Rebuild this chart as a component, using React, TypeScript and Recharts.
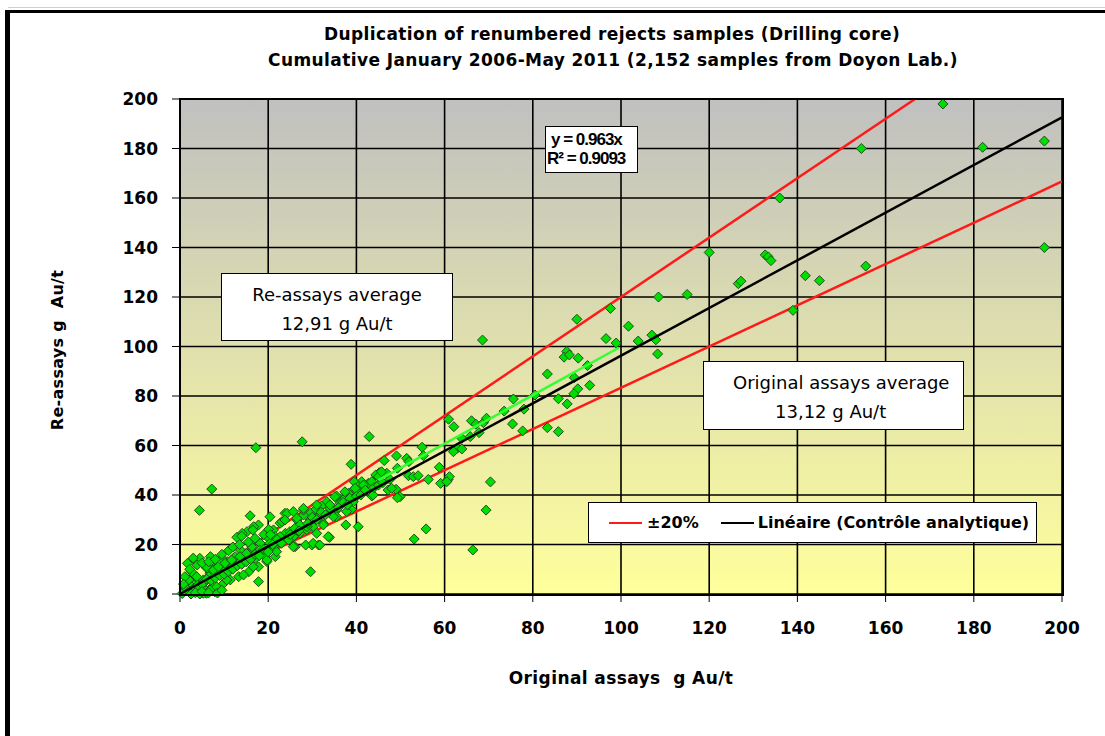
import { ScatterChart, Scatter, XAxis, YAxis, CartesianGrid } from "recharts";

// original assay (g Au/t) vs re-assay (g Au/t)
const SAMPLES: [number, number][] = [
  [173, 198], [154.5, 180], [182, 180.5], [196, 183], [136, 160], [196, 140],
  [120, 138], [132.7, 137], [133.4, 136.2], [134, 134.7], [155.5, 132.5],
  [141.8, 128.6], [145, 126.6], [126.6, 125.4], [127.2, 126.4], [108.5, 120],
  [115, 121], [139, 114.6], [97.6, 115.4], [90, 111], [101.7, 108.2],
  [96.6, 103.2], [98.9, 101.4], [103.9, 102.2], [107, 104.6], [107.9, 102.7],
  [108.3, 97], [87.7, 98], [87.1, 95.7], [88.3, 96.6], [90.3, 95.3],
  [92.4, 92.3], [83.3, 88.9], [89.4, 87.4], [92.9, 84.3], [90.2, 82.9],
  [89.3, 80.9], [85.8, 78.9], [87.8, 76.8], [80.5, 80.4], [75.6, 78.8],
  [73.5, 73.9], [78, 74.7], [75.4, 68.7], [77.7, 65.9], [83.3, 67.2],
  [85.8, 65.6], [68.6, 102.6],
  [60.9, 70.6], [62.1, 67.6], [66.1, 70], [67.1, 68.6], [68.8, 69.2],
  [69.5, 71], [63.9, 62.9], [65.8, 63.6], [67.8, 65.2], [62.9, 58.9],
  [62, 57.5], [54.9, 59.3], [55.2, 55.9], [51.4, 54.8], [51.9, 53.5],
  [51.8, 47.8], [52.9, 47.4], [54, 47.8], [56.3, 46.3], [58.8, 51.2],
  [59.1, 44.7], [60.8, 46.3], [61.1, 47.4], [70.4, 45.3], [69.4, 33.9],
  [55.8, 26.3], [53.1, 22.2], [66.4, 17.8], [49.9, 39.3], [63.9, 58.6],
  [27.7, 61.5], [42.9, 63.6], [38.8, 52.4], [46.3, 53.9], [49.1, 55.8],
  [60.5, 45.4], [49.3, 50.8], [45.2, 49], [44.4, 48.1], [46.9, 48.8],
  [47.6, 46.3], [47.2, 42], [49, 42.3], [49.3, 38.9], [43.5, 39.6],
  [42.7, 44.7], [41.2, 45.4], [39.5, 45.4], [40.4, 43.4], [39.3, 42],
  [38.2, 40.7], [37, 39.3], [35.9, 38], [33.3, 37.3], [34, 34.6],
  [32.1, 35.6], [30.6, 33.9], [29.5, 32.6], [28, 31.9], [35.5, 33.9],
  [38.9, 34.2], [35.5, 31.2], [37.6, 27.9], [40.4, 27.2], [33.9, 22.9],
  [31.4, 19.8], [29.9, 19.8], [28.5, 19.8], [26.1, 19.1], [26.5, 29.9],
  [28.7, 27.2], [30.6, 29.9], [32.5, 28.6],
  [35.5, 39.6], [37.4, 38.7], [39.3, 37.3], [40.1, 41.3], [41.6, 44],
  [43.5, 45.4], [45, 47.4], [45.7, 49.4], [48, 42.7], [43.8, 40],
  [37.8, 33.3], [34.8, 31.2], [32.5, 27.9], [30.2, 27.2], [28.7, 25.9],
  [27.2, 24.5], [25.7, 23.2], [24.2, 22.5], [23.8, 32.6], [22.7, 28.6],
  [21.2, 25.9], [19.7, 23.2], [18.1, 20.5], [16.6, 17.8], [14.4, 16.4],
  [12.1, 14.4], [10.6, 12.4], [9.1, 9.7], [6.8, 8.4], [5.3, 5.7],
  [3.4, 4.3], [1.9, 2.3], [1.7, 12.4], [3.8, 13.1], [4.5, 14.4],
  [7.6, 10.4], [6, 0.3], [7.9, 0.9], [4.5, 0], [30.2, 20.5],
  [20.4, 31.2], [17.2, 59.1], [7.2, 42.4], [4.4, 33.8], [29.6, 9],
  [17.8, 5], [15.9, 31.6],
  [17.8, 27.9], [16.7, 27.2], [15.2, 25.2], [14.1, 24.5], [12.9, 22.9],
  [20.1, 26.1], [3.9, 11.7], [6.1, 10.4], [8.4, 11], [10.7, 13.1],
  [12.5, 15.1], [13.7, 17.8], [16.3, 19.1], [18.6, 17.1], [20.9, 19.1],
  [22.4, 21.1], [23.9, 24.5], [23.1, 29.2], [24.3, 32.6], [26.5, 30.6],
  [28, 33.9], [28.8, 27.2], [24.6, 21.8], [21.6, 15.1], [19.7, 13.1],
  [17.8, 11], [15.6, 9], [13.3, 7], [11.4, 5.7], [9.9, 4.3], [7.3, 2.9],
  [5.4, 2.3], [2.7, 2.9], [1.2, 1.6], [0.5, 0.2], [3.5, 7], [6.5, 7],
  [8.8, 8.4], [2, 5.7], [5.7, 5], [8, 1.6], [10.3, 9.7], [11.8, 11],
  [14.8, 13.7], [17.1, 14.4], [19.3, 15.1], [18.2, 20.5], [21.6, 23.2],
  [9.5, 14.4], [6.9, 15.1],
  [14, 23.4], [16.5, 25.9], [1.1, 7], [2.6, 9], [3.8, 7], [6, 11],
  [7.6, 9.7], [8.7, 11], [10.2, 12.4], [11.7, 13.7], [13.6, 15.1],
  [15.1, 16.4], [18.1, 17.8], [20.4, 20.5], [22.7, 23.2], [24.9, 25.2],
  [27.2, 27.9], [29.5, 29.9], [31.7, 31.9], [34, 34.6], [36.3, 36.6],
  [38.5, 38.7], [5.3, 0.3], [6.8, 1.6], [8.3, 2.9], [10.6, 5.7],
  [14.4, 7.7], [16.6, 11], [19.7, 13.7], [21.9, 17.1], [25.7, 19.1],
  [31.7, 19.8], [33.6, 23.2], [31, 24.5], [23.8, 29.9], [25.7, 33.3],
  [28, 34.6], [31, 36], [35.1, 39.3], [37.4, 41.3], [39.7, 42.7],
  // dense band along the trend line
  [22, 22], [23, 20.5], [25, 24], [26, 26.5], [27, 25.5], [29, 28.5],
  [30, 31], [31, 30], [32, 33], [33, 32], [34, 36], [36, 35], [37, 37],
  [38, 36], [40, 39.5], [41, 40], [42, 42], [44, 43], [45, 44], [46, 45],
  [1, 3], [2, 1], [3, 2], [4, 3.5], [5, 4], [6, 6], [7, 5.5], [8, 6.5],
  [9, 7.5], [10, 8], [11, 9], [12, 10], [13, 11.5], [14, 12], [15, 13],
  [16, 14], [17, 16], [18, 15.5], [19, 18], [20, 17], [21, 20],
  [0.8, 4], [2.2, 10], [3, 14.5], [5, 12.5], [6.5, 13], [8, 14],
  [9.5, 16], [11, 17.5], [12, 19], [13.5, 20], [15.5, 21], [17, 22.5],
  [19, 24], [20.5, 24], [2.5, 0], [3.5, 0.5], [5, 1], [6.5, 0.5],
  [8.5, 0.4], [9.5, 1.5],
];

const AXIS_TICKS = [0, 20, 40, 60, 80, 100, 120, 140, 160, 180, 200];

// ±20% envelope, linear trend y = 0.963x, and the visible light green 1:1 segment
const UPPER_20 = [{ x: 0, y: 0 }, { x: 166.67, y: 200 }];
const LOWER_20 = [{ x: 0, y: 0 }, { x: 200, y: 166.67 }];
const TREND = [{ x: 0, y: 0 }, { x: 200, y: 192.6 }];
const ONE_TO_ONE = [{ x: 45, y: 46 }, { x: 99.5, y: 99.5 }];

const FONT = "'Comic Sans MS', 'DejaVu Sans', sans-serif";

const data = SAMPLES.map(([x, y]) => ({ x, y }));

const Diamond = (props: any) => {
  const { cx, cy } = props;
  if (cx == null || cy == null) return <g />;
  const r = 5;
  return (
    <path
      d={`M${cx},${cy - r}L${cx + r},${cy}L${cx},${cy + r}L${cx - r},${cy}Z`}
      fill="#00dd00"
      stroke="#1e4d1e"
      strokeWidth={1}
    />
  );
};

const NoDot = () => <g />;

const tickStyle = { fontSize: 17, fontWeight: 700, fill: "#000", fontFamily: FONT };

const boxStyle: React.CSSProperties = {
  position: "absolute",
  background: "#fff",
  border: "1.5px solid #000",
  boxSizing: "border-box",
};

const titleStyle: React.CSSProperties = {
  position: "absolute",
  transform: "translateX(-50%)",
  whiteSpace: "nowrap",
  fontSize: 17,
  fontWeight: 700,
  letterSpacing: 0.4,
};

export default function App() {
  return (
    <div
      style={{
        position: "absolute",
        left: 0,
        top: 0,
        width: 1105,
        height: 736,
        overflow: "hidden",
        background: "#fff",
        fontFamily: FONT,
      }}
    >
      <svg width={0} height={0} style={{ position: "absolute" }}>
        <defs>
          <linearGradient id="plotBg" x1="0" y1="0" x2="0" y2="1">
            <stop offset="0%" stopColor="#c0c0c0" />
            <stop offset="100%" stopColor="#ffff9c" />
          </linearGradient>
        </defs>
      </svg>

      {/* page frame */}
      <div style={{ position: "absolute", left: 8, top: 7, width: 1200, height: 1, background: "#cfcfcf" }} />
      <div
        style={{
          position: "absolute",
          left: 5,
          top: 10,
          width: 1200,
          height: 900,
          borderTop: "3px solid #000",
          borderLeft: "5px solid #000",
        }}
      />

      <div style={{ position: "absolute", left: 0, top: 0 }}>
        <ScatterChart width={1105} height={736} margin={{ top: 99, right: 43, bottom: 102, left: 100 }}>
          <CartesianGrid stroke="#000" strokeWidth={1.6} fill="url(#plotBg)" fillOpacity={1} />
          <XAxis
            type="number"
            dataKey="x"
            domain={[0, 200]}
            ticks={AXIS_TICKS}
            interval={0}
            height={40}
            axisLine={false}
            tickLine={{ stroke: "#000" }}
            tickSize={8}
            tickMargin={20}
            tick={tickStyle}
          />
          <YAxis
            type="number"
            dataKey="y"
            domain={[0, 200]}
            ticks={AXIS_TICKS}
            interval={0}
            width={80}
            axisLine={false}
            tickLine={{ stroke: "#000" }}
            tickSize={8}
            tickMargin={14}
            tick={tickStyle}
          />
          <Scatter data={UPPER_20} line={{ stroke: "#ff1a1a", strokeWidth: 2.5 }} shape={NoDot} isAnimationActive={false} />
          <Scatter data={LOWER_20} line={{ stroke: "#ff1a1a", strokeWidth: 2.5 }} shape={NoDot} isAnimationActive={false} />
          <Scatter data={data} shape={Diamond} isAnimationActive={false} />
          <Scatter data={ONE_TO_ONE} line={{ stroke: "#33ff33", strokeWidth: 2.5 }} shape={NoDot} isAnimationActive={false} />
          <Scatter data={TREND} line={{ stroke: "#000", strokeWidth: 2.5 }} shape={NoDot} isAnimationActive={false} />
        </ScatterChart>
      </div>

      {/* plot border */}
      <div
        style={{
          position: "absolute",
          left: 179,
          top: 98,
          width: 885,
          height: 498,
          border: "2.5px solid #000",
          boxSizing: "border-box",
          pointerEvents: "none",
        }}
      />

      {/* titles */}
      <div style={{ ...titleStyle, left: 612, top: 24 }}>
        Duplication of renumbered rejects samples (Drilling core)
      </div>
      <div style={{ ...titleStyle, left: 613, top: 50 }}>
        Cumulative January 2006-May 2011 (2,152 samples from Doyon Lab.)
      </div>
      <div style={{ position: "absolute", left: 621, top: 668, transform: "translateX(-50%)", whiteSpace: "pre", fontSize: 17, fontWeight: 700, letterSpacing: 0.4 }}>
        {"Original assays  g Au/t"}
      </div>
      <div
        style={{
          position: "absolute",
          left: 57,
          top: 350,
          transform: "translate(-50%, -50%) rotate(-90deg)",
          whiteSpace: "pre",
          fontSize: 16,
          fontWeight: 700,
          letterSpacing: 0.3,
        }}
      >
        {"Re-assays g  Au/t"}
      </div>

      {/* annotation boxes */}
      <div style={{ ...boxStyle, left: 221, top: 273, width: 232, height: 68, fontSize: 18, textAlign: "center", lineHeight: "29px", paddingTop: 6 }}>
        <div>Re-assays average</div>
        <div>12,91 g Au/t</div>
      </div>
      <div style={{ ...boxStyle, left: 703, top: 361, width: 261, height: 69, fontSize: 18, lineHeight: "29px", paddingTop: 6 }}>
        <div style={{ paddingLeft: 29 }}>Original assays average</div>
        <div style={{ paddingLeft: 71 }}>13,12 g Au/t</div>
      </div>
      <div
        style={{
          ...boxStyle,
          left: 545,
          top: 126,
          width: 93,
          height: 47,
          fontFamily: "'Liberation Sans', Arial, sans-serif",
          fontSize: 17,
          fontWeight: 700,
          letterSpacing: -1,
          lineHeight: "19px",
          paddingTop: 3,
          paddingLeft: 1,
          whiteSpace: "nowrap",
        }}
      >
        <div style={{ paddingLeft: 4 }}>y = 0.963x</div>
        <div>R² = 0.9093</div>
      </div>

      {/* legend */}
      <div
        style={{
          ...boxStyle,
          left: 588,
          top: 502,
          width: 449,
          height: 41,
          display: "flex",
          alignItems: "center",
          fontSize: 16,
          fontWeight: 700,
          whiteSpace: "nowrap",
        }}
      >
        <div style={{ marginLeft: 20, width: 33, height: 2, background: "#ff1a1a" }} />
        <span style={{ marginLeft: 5 }}>±20%</span>
        <div style={{ marginLeft: 22, width: 33, height: 2, background: "#000" }} />
        <span style={{ marginLeft: 4 }}>Linéaire (Contrôle analytique)</span>
      </div>
    </div>
  );
}
